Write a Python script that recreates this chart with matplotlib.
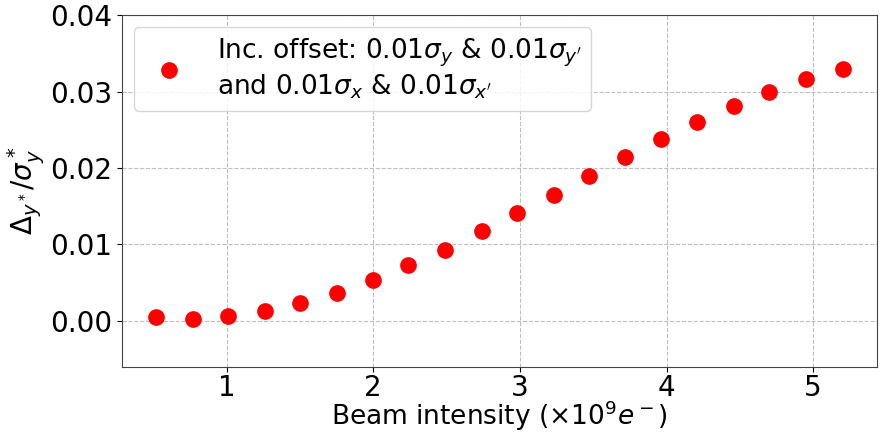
import matplotlib.pyplot as plt

# beam intensity (x 1e9 e-) and normalized offset
intensity = [0.52, 0.77, 1.01, 1.26, 1.50, 1.75, 2.00, 2.24, 2.49, 2.74,
             2.98, 3.23, 3.47, 3.72, 3.96, 4.21, 4.46, 4.70, 4.95, 5.20]
offset = [0.0005, 0.0003, 0.0006, 0.0013, 0.0023, 0.0037, 0.0054, 0.0073, 0.0093, 0.0117,
          0.0141, 0.0165, 0.0190, 0.0214, 0.0238, 0.0260, 0.0281, 0.0300, 0.0316, 0.0329]

label = ("Inc. offset: $0.01\\sigma_y$ & $0.01\\sigma_{y'}$\n"
         "and $0.01\\sigma_x$ & $0.01\\sigma_{x'}$")

plt.rcParams["font.family"] = "DejaVu Sans"
fig = plt.figure(figsize=(8.83, 4.33), dpi=100)
ax = fig.add_axes([0.138, 0.153, 0.855, 0.812])

ax.plot(intensity, offset, "o", color="red", markersize=11, label=label)

ax.set_ylim(-0.006, 0.04)
ax.set_xticks([1, 2, 3, 4, 5])
ax.set_yticks([0.0, 0.01, 0.02, 0.03, 0.04])
ax.tick_params(labelsize=20)
ax.tick_params(axis="x", pad=2)
ax.grid(True, linestyle="--", color="#b0b0b0", alpha=0.8)
ax.set_xlabel(r"Beam intensity ($\times 10^9 e^-$)", fontsize=19, labelpad=-2.5)
ax.set_ylabel(r"$\Delta_{y^*}/\sigma_y^*$", fontsize=20, labelpad=2)
ax.legend(loc="upper left", fontsize=19, borderaxespad=0.45, handletextpad=0.8,
          borderpad=0.35, labelspacing=0.2)
for sp in ax.spines.values():
    sp.set_color("#444444")

fig.savefig("out.png", dpi=100)
